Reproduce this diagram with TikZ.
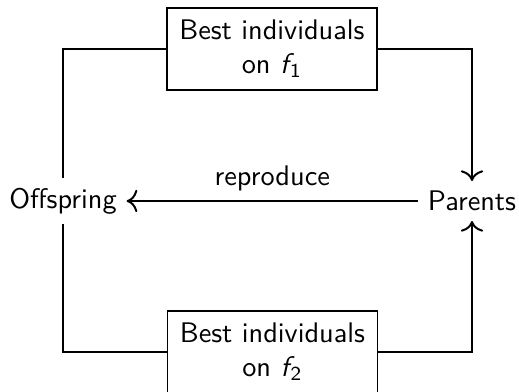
\documentclass[tikz,border=0pt]{standalone}
\usepackage{amsmath}
\usetikzlibrary{arrows.meta}
\renewcommand{\familydefault}{\sfdefault}
\begin{document}
\begin{tikzpicture}[x=0.353pt,y=-0.353pt,>={To[scale=1.2]},
  boxnode/.style={draw,line width=0.7pt,minimum width=210*0.353pt,minimum height=82*0.353pt,align=center,inner sep=0pt},
  plain/.style={inner sep=0.333em},
  conn/.style={line width=0.7pt}]
\useasboundingbox (0,0) rectangle (519,391);
\node[boxnode] (top) at (272,49) {Best individuals\\on $\textsf{\textit{f}}_{\mkern-3mu\textsf{1}}$};
\node[boxnode] (bot) at (272.5,352) {Best individuals\\on $\textsf{\textit{f}}_{\mkern-3mu\textsf{2}}$};
\node[plain] (off) at (63,201) {Offspring};
\node[plain] (par) at (472,201) {Parents};
\draw[conn,->] (par) -- node[above] {reproduce} (off);
\draw[conn] (top.west) -| (off.north);
\draw[conn,->] (top.east) -| (par.north);
\draw[conn] (bot.west) -| (off.south);
\draw[conn,->] (bot.east) -| (par.south);
\end{tikzpicture}
\end{document}
